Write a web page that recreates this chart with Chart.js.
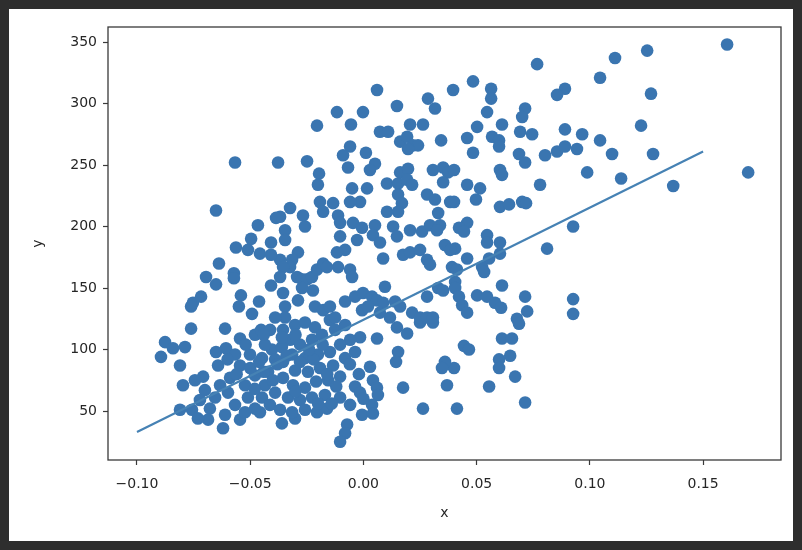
<!DOCTYPE html>
<html>
<head>
<meta charset="utf-8">
<script src="https://cdn.jsdelivr.net/npm/chart.js@4.4.0/dist/chart.umd.min.js"></script>
<style>
  html, body { margin: 0; padding: 0; background: #2e2e2e; }
  #sheet { position: absolute; left: 9px; top: 9px; width: 784px; height: 532px; background: #fff; }
  #wrap { position: absolute; left: 0; top: 0; width: 802px; height: 550px; }
</style>
</head>
<body>
<div id="sheet"></div>
<div id="wrap"><canvas id="chart" width="802" height="550"></canvas></div>
<script>
// bmi (x) vs disease progression (y)
const bmi = [
  -0.0567,-0.0377,-0.0249,-0.0196,-0.0205,-0.0117,-0.0002,-0.0055,0.0060,0.0148,
  0.0073,0.0109,0.0206,0.0263,0.0285,0.0316,0.0162,0.0193,0.0219,0.0241,
  0.0197,0.0343,-0.0059,-0.0090,0.0011,-0.0068,0.0051,0.0029,0.0162,0.0197,
  0.0307,0.0352,0.0374,0.0396,0.0767,0.1111,0.1045,0.0484,0.0564,0.0564,
  0.0546,0.0890,0.0855,0.0714,0.0701,0.0502,0.0458,0.0612,0.0568,0.0599,
  0.0599,0.0692,0.0745,0.0890,0.0966,0.1045,0.1098,0.0484,0.0687,0.0714,
  0.0802,0.0855,0.0890,0.0943,0.0400,0.0603,0.0612,0.0988,0.1138,0.1253,
  0.1606,0.1270,0.1226,0.1279,0.1699,0.0458,0.0515,0.0497,0.0780,0.0400,
  0.0603,0.0643,0.0701,0.0718,0.0458,0.0422,0.0444,0.0926,0.0546,0.0546,
  0.0603,0.0603,0.0811,0.0405,0.0458,0.0555,0.0524,0.0533,0.0391,0.0413,
  0.0405,0.0405,0.0612,0.0502,0.0546,0.0581,0.0608,0.0422,0.0436,0.0458,
  0.0714,0.0723,0.0926,0.0926,0.0678,0.1368,0.0687,0.0612,0.0656,0.0444,
  0.0466,0.0599,0.0648,0.0599,0.0400,0.0670,0.0555,0.0413,0.0714,-0.0015,
  0.0060,0.0148,0.0193,0.0250,0.0307,-0.0148,0.0153,0.0144,0.0029,0.0360,
  0.0347,0.0369,0.0175,0.0263,-0.0103,-0.0059,-0.0037,-0.0015,0.0042,0.0060,
  0.0064,0.0038,-0.0006,0.0042,-0.0072,-0.0081,-0.0103,-0.0205,-0.0161,-0.0302,
  -0.0360,-0.0201,-0.0050,0.0016,-0.0015,-0.0059,0.0104,0.0153,0.0193,0.0215,
  0.0352,0.0281,0.0316,0.0383,0.0153,0.0170,0.0104,0.0153,-0.0192,-0.0134,
  -0.0178,-0.0324,-0.0267,-0.0258,-0.0368,-0.0346,-0.0346,-0.0112,-0.0103,-0.0103,
  -0.0046,-0.0006,-0.0028,0.0051,0.0042,0.0073,0.0131,0.0148,0.0206,0.0259,
  0.0294,0.0330,0.0338,0.0325,0.0360,0.0383,0.0175,0.0206,0.0250,0.0281,
  0.0294,0.0087,-0.0081,-0.0117,-0.0112,-0.0059,-0.0050,-0.0289,-0.0315,-0.0324,
  -0.0293,-0.0271,-0.0249,-0.0227,-0.0223,-0.0205,-0.0178,-0.0161,-0.0368,-0.0355,
  -0.0368,-0.0355,-0.0346,-0.0346,-0.0271,-0.0289,-0.0214,-0.0178,-0.0148,-0.0125,
  -0.0081,-0.0037,-0.0002,0.0038,0.0060,0.0087,0.0095,0.0140,0.0162,-0.0006,
  0.0020,0.0073,0.0117,0.0215,0.0250,0.0281,0.0307,0.0281,0.0330,0.0352,
  -0.0651,-0.0466,-0.0386,-0.0563,-0.0510,-0.0496,-0.0457,-0.0408,-0.0408,-0.0638,
  -0.0695,-0.0651,-0.0572,-0.0572,-0.0408,-0.0753,-0.0761,-0.0717,-0.0541,-0.0550,
  -0.0461,-0.0492,-0.0390,-0.0761,-0.0611,-0.0545,-0.0876,-0.0894,-0.0841,-0.0788,
  -0.0810,-0.0797,-0.0479,-0.0452,-0.0651,-0.0607,-0.0642,-0.0708,-0.0810,-0.0620,
  -0.0545,-0.0457,-0.0744,-0.0700,-0.0722,-0.0757,-0.0678,-0.0655,-0.0633,-0.0589,
  -0.0598,-0.0567,-0.0611,-0.0523,-0.0510,-0.0479,-0.0523,-0.0479,-0.0435,-0.0448,
  -0.0413,-0.0390,-0.0421,-0.0545,-0.0501,-0.0448,-0.0567,-0.0404,-0.0686,-0.0731,
  -0.0355,-0.0302,-0.0258,-0.0214,-0.0324,-0.0280,-0.0227,-0.0183,-0.0125,-0.0081,
  -0.0059,-0.0103,-0.0148,-0.0201,-0.0258,-0.0315,-0.0355,-0.0302,-0.0245,-0.0192,
  -0.0134,-0.0081,-0.0037,-0.0355,-0.0311,-0.0258,-0.0209,-0.0156,-0.0103,-0.0333,
  -0.0280,-0.0227,-0.0170,-0.0368,-0.0315,-0.0258,-0.0390,-0.0412,-0.0435,-0.0360,
  -0.0500,-0.0460,-0.0380,-0.0340,-0.0280,-0.0220,-0.0160,-0.0120,-0.0400,-0.0480,
  -0.0560,-0.0600,-0.0520,-0.0440,-0.0360,-0.0300,-0.0240,-0.0180,-0.0060,-0.0020,
  0.0000,-0.0300,-0.0200,-0.0140,-0.0440
];
const target = [
  252,252,253,243,282,293,293,283,311,298,
  277,277,283,283,304,296,269,273,266,266,
  263,270,265,258,260,248,251,246,244,247,
  246,248,244,311,332,337,321,318,312,304,
  293,312,307,296,289,281,272,283,273,270,
  265,277,275,279,275,270,259,260,259,252,
  258,261,265,263,246,246,242,244,239,343,
  348,308,282,259,244,234,231,222,234,220,
  216,218,220,219,203,199,196,200,193,187,
  187,178,182,182,174,174,167,163,167,165,
  155,150,152,144,143,138,134,143,136,130,
  143,131,141,129,125,233,121,109,109,103,
  100,92,95,85,85,78,70,52,57,110,
  109,118,113,122,122,124,98,90,86,90,
  85,71,69,52,61,55,70,65,75,69,
  63,55,47,48,39,32,25,49,52,44,
  40,234,231,231,220,220,235,235,238,234,
  236,226,222,220,226,219,212,212,220,219,
  212,215,209,200,208,197,189,209,203,192,
  203,199,189,201,193,187,200,192,197,196,
  201,211,201,197,185,181,177,179,181,173,
  169,174,181,179,167,165,159,179,173,167,
  159,157,157,159,148,165,170,167,173,167,
  159,146,135,126,150,140,135,132,135,126,
  139,143,146,143,140,138,151,139,135,132,
  135,130,126,130,126,126,126,143,150,148,
  213,201,207,183,181,190,178,187,177,170,
  159,153,162,158,152,138,135,143,144,135,
  139,129,126,117,117,109,106,94,101,102,
  87,71,112,116,98,101,87,78,51,36,
  43,49,75,67,59,51,52,61,71,77,
  65,55,47,71,61,52,49,79,71,61,
  55,65,82,87,96,93,96,100,43,44,
  116,120,122,118,108,104,108,112,116,120,
  108,104,98,96,93,96,90,83,82,85,
  87,93,98,77,71,69,74,75,78,61,
  59,61,63,51,49,51,92,116,104,102,
  85,90,88,95,90,92,80,70,75,68,
  80,92,104,112,110,112,100,104,88,80,
  60,66,56,56,82
];

// fitted line, two end points
const fitX = [-0.10, 0.15];
const fitY = [33, 261];

const xTicks = [-0.10, -0.05, 0.00, 0.05, 0.10, 0.15];
const yTicks = [50, 100, 150, 200, 250, 300, 350];

const FONT = { family: 'DejaVu Sans', size: 14 };
const INK = '#262626';

const frame = {
  id: 'frame',
  afterDraw(chart) {
    const { ctx, chartArea: a } = chart;
    ctx.save();
    ctx.strokeStyle = '#3a3a3a';
    ctx.lineWidth = 1.3;
    ctx.strokeRect(a.left, a.top, a.right - a.left, a.bottom - a.top);
    ctx.restore();
  }
};

function axisGrid() {
  return { drawOnChartArea: false, drawTicks: true, tickLength: 5, tickColor: '#3a3a3a', tickWidth: 1.2 };
}

new Chart(document.getElementById('chart'), {
  type: 'scatter',
  data: {
    datasets: [
      { type: 'line', data: fitX.map((x, i) => ({ x, y: fitY[i] })), borderColor: '#4682b4', borderWidth: 2.2,
        pointRadius: 0, fill: false, order: 0 },
      { data: bmi.map((x, i) => ({ x, y: target[i] })), backgroundColor: '#3a75b0', borderWidth: 0,
        pointRadius: 6.3, order: 1 }
    ]
  },
  options: {
    responsive: false, animation: false, devicePixelRatio: 1,
    layout: { padding: { left: 30, right: 21, top: 27, bottom: 28 } },
    plugins: { legend: { display: false }, tooltip: { enabled: false } },
    scales: {
      x: {
        type: 'linear', min: -0.1128, max: 0.1844,
        afterFit: s => { s.height = 62; },
        afterBuildTicks: s => { s.ticks = xTicks.map(v => ({ value: v })); },
        ticks: { font: FONT, color: INK, padding: 11, maxRotation: 0,
                 callback: v => v.toFixed(2).replace('-', '\u2212') },
        grid: axisGrid(), border: { display: false },
        title: { display: true, text: 'x', font: FONT, color: INK, padding: 0 }
      },
      y: {
        min: 10.2, max: 362.2,
        afterFit: s => { s.width = 78; },
        afterBuildTicks: s => { s.ticks = yTicks.map(v => ({ value: v })); },
        ticks: { font: FONT, color: INK, padding: 6, callback: v => String(v) },
        grid: axisGrid(), border: { display: false },
        title: { display: true, text: 'y', font: FONT, color: INK, padding: 0 }
      }
    }
  },
  plugins: [frame]
});
</script>
</body>
</html>
